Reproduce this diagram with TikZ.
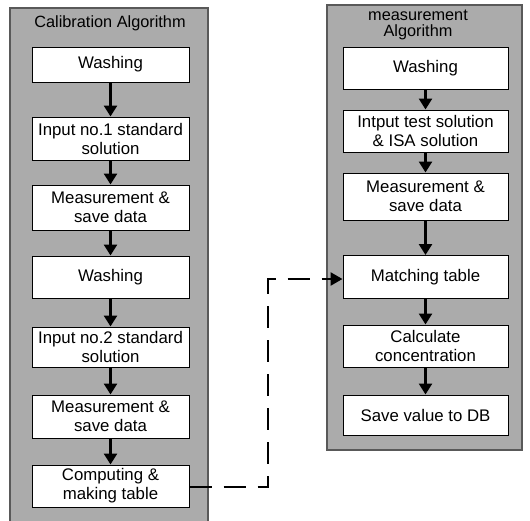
\documentclass[tikz,border=0pt]{standalone}
\usepackage{fontspec}
\setmainfont{Liberation Sans}
\usetikzlibrary{arrows.meta}
\begin{document}
\begin{tikzpicture}[x=1pt,y=-1pt,
  panel/.style={draw=black!65,line width=1.2pt,fill=black!33},
  stepbox/.style={draw=black,line width=1pt,fill=white,minimum width=#1,inner sep=0pt,align=center,
    font=\fontsize{16.8}{19}\selectfont},
  title/.style={align=center,inner sep=0pt,font=\fontsize{16.3}{15.5}\selectfont},
  flow/.style={line width=2.6pt,-{Triangle[width=13pt,length=11pt]}},
  link/.style={line width=2.6pt,dash pattern=on 22pt off 12pt,-{Triangle[width=13pt,length=12pt]}}]
\useasboundingbox (0,0) rectangle (530,520);
% panels
\path[panel] (10,8) rectangle (208,522);
\path[panel] (327,5) rectangle (522,450);
\node[title] (t1) at (110,23) {Calibration Algorithm};
\node[title] (t2) at (418,25) {measurement\\Algorithm};
% left column
\node[stepbox=157pt,minimum height=35pt] (l1) at (110.5,64.5) {Washing};
\node[stepbox=157pt,minimum height=43pt] (l2) at (110.5,138.5) {Input no.1 standard\\solution};
\node[stepbox=157pt,minimum height=45pt] (l3) at (110.5,207.5) {Measurement \&\\save data};
\node[stepbox=157pt,minimum height=42pt] (l4) at (110.5,277) {Washing};
\node[stepbox=157pt,minimum height=40pt] (l5) at (110.5,347) {Input no.2 standard\\solution};
\node[stepbox=157pt,minimum height=43pt] (l6) at (110.5,416.5) {Measurement \&\\save data};
\node[stepbox=157pt,minimum height=42pt] (l7) at (110.5,486) {Computing \&\\making table};
% right column
\node[stepbox=165pt,minimum height=42pt] (r1) at (425.5,68) {Washing};
\node[stepbox=165pt,minimum height=42pt] (r2) at (425.5,131) {Intput test solution\\\& ISA solution};
\node[stepbox=165pt,minimum height=47pt] (r3) at (425.5,196.5) {Measurement \&\\save data};
\node[stepbox=165pt,minimum height=43pt] (r4) at (425.5,277) {Matching table};
\node[stepbox=165pt,minimum height=42pt] (r5) at (425.5,346) {Calculate\\concentration};
\node[stepbox=165pt,minimum height=40pt] (r6) at (425.5,415) {Save value to DB};
% arrows
\foreach \a/\b in {l1/l2,l2/l3,l3/l4,l4/l5,l5/l6,l6/l7,r1/r2,r2/r3,r3/r4,r4/r5,r5/r6}
  \draw[flow] (\a.south) -- (\b.north);
\coordinate (c1) at (268,487);
\coordinate (c2) at (268,279);
\draw[link] (l7.east |- c1) -- (c1) -- (c2) -- (r4.west |- c2);
\end{tikzpicture}
\end{document}
